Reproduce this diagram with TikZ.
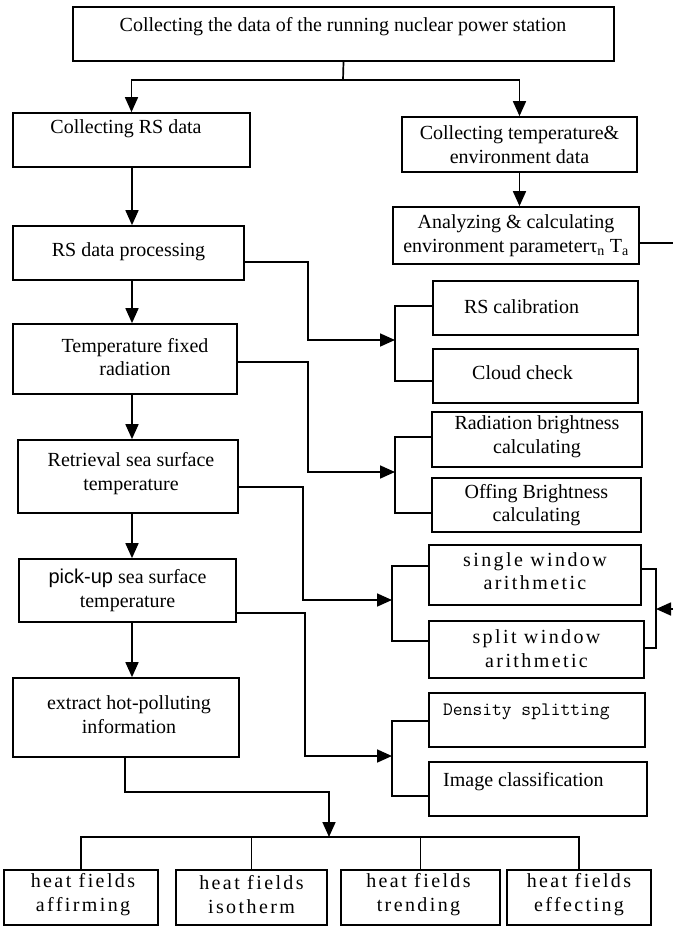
\documentclass[tikz,border=0pt]{standalone}
\usepackage{fontspec}
\setmainfont{Liberation Serif}
\newfontfamily\sansf{Liberation Sans}
\newfontfamily\spacedf[LetterSpace=12]{Liberation Serif}
\usetikzlibrary{fit,arrows.meta}
\begin{document}
\begin{tikzpicture}[x=1pt,y=-1pt,
  every node/.style={font=\fontsize{20}{23.5}\selectfont},
  box/.style={draw, line width=1.7pt, inner sep=0pt},
  txt/.style={inner sep=0pt, align=center},
  sptxt/.style={txt, font=\spacedf\fontsize{20}{23.5}\selectfont},
  ln/.style={line width=1.7pt},
  arr/.style={ln, -{Triangle[length=15pt,width=13pt]}},
  lbl/.style={inner sep=0pt, anchor=base}]
\useasboundingbox (0,0) rectangle (673,926);

% boxes
\node[box, fit={(73,7) (614,61)}] (top) {};
\node[box, fit={(13,113) (250,167)}] (rsd) {};
\node[box, fit={(402,117) (637,172)}] (ctd) {};
\node[box, fit={(393,207) (639,264)}] (ana) {};
\node[box, fit={(13,226) (244,280)}] (rsp) {};
\node[box, fit={(13,324) (237,394)}] (tfr) {};
\node[box, fit={(433,281) (638,335)}] (rcal) {};
\node[box, fit={(433,349) (638,403)}] (cloud) {};
\node[box, fit={(432,412) (642,467)}] (rad) {};
\node[box, fit={(432,478) (641,532)}] (off) {};
\node[box, fit={(18,440) (238,513)}] (ret) {};
\node[box, fit={(429,545) (641,605)}] (sw) {};
\node[box, fit={(429,621) (644,678)}] (spw) {};
\node[box, fit={(19,559) (236,622)}] (pick) {};
\node[box, fit={(429,693) (645,747)}] (dens) {};
\node[box, fit={(429,762) (647,816)}] (img) {};
\node[box, fit={(13,678) (239,757)}] (ext) {};
\node[box, fit={(4,870) (158,925)}] (h1) {};
\node[box, fit={(176,870) (327,925)}] (h2) {};
\node[box, fit={(341,870) (500,925)}] (h3) {};
\node[box, fit={(507,870) (651,925)}] (h4) {};

% texts
\node[lbl] (topt) at (343,31) {Collecting the data of the running nuclear power station};
\node[lbl] (rsdt) at (126,133) {Collecting RS data};
\node[txt] (ctdt) at ([yshift=0pt]ctd.center) {Collecting temperature\&\\environment data};
\node[txt] (anat) at ([yshift=0pt]ana.center) {Analyzing \& calculating\\environment parameterτ\textsubscript{n} T\textsubscript{a}};
\node[txt] (rspt) at ([yshift=1pt]rsp.center) {RS data processing};
\node[txt] (tfrt) at ([xshift=10pt,yshift=2pt]tfr.center) {Temperature fixed\\radiation};
\node[txt] (rcalt) at ([xshift=-14pt,yshift=1pt]rcal.center) {RS calibration};
\node[txt] (cloudt) at ([xshift=-13pt,yshift=3pt]cloud.center) {Cloud check};
\node[txt] (radt) at ([yshift=3pt]rad.center) {Radiation brightness\\calculating};
\node[txt] (offt) at ([yshift=0pt]off.center) {Offing Brightness\\calculating};
\node[txt] (rett) at ([xshift=3pt,yshift=3pt]ret.center) {Retrieval sea surface\\temperature};
\node[sptxt] (swt) at ([yshift=4pt]sw.center) {single window\\arithmetic};
\node[sptxt] (spwt) at ([yshift=1pt]spw.center) {split window\\arithmetic};
\node[txt] (pickt) at ([yshift=0pt]pick.center) {{\sansf pick-up} sea surface\\temperature};
\node[lbl, anchor=base west, font=\ttfamily\fontsize{19}{23}\selectfont] (denst) at (443,715) {Density splitting};
\node[lbl, anchor=base west] (imgt) at (443,786) {Image classification};
\node[txt] (extt) at ([xshift=3pt,yshift=3pt]ext.center) {extract hot-polluting\\information};
\node[sptxt] (h1t) at ([xshift=2pt,yshift=3pt]h1.center) {heat fields\\affirming};
\node[sptxt] (h2t) at ([yshift=3pt]h2.center) {heat fields\\isotherm};
\node[sptxt] (h3t) at ([xshift=-2pt,yshift=3pt]h3.center) {heat fields\\trending};
\node[sptxt] (h4t) at ([yshift=3pt]h4.center) {heat fields\\effecting};

% helper coordinates
\coordinate (sp) at (132,0);
\coordinate (j0) at (343,80);
\coordinate (anaR) at (673,243);
\coordinate (swR) at (673,609);
\coordinate (jb) at (329,837);

% top split
\draw[ln] (top.south) -- (j0);
\draw[arr] (j0) -| (rsd.north);
\draw[arr] (j0) -| (ctd.north);
\draw[arr] (ctd.south) -- (ctd.south |- ana.north);
\draw[ln] (ana.east |- anaR) -- (anaR);

% main spine
\draw[arr] (rsd.south -| sp) -- (rsp.north -| sp);
\draw[arr] (rsp.south -| sp) -- (tfr.north -| sp);
\draw[arr] (tfr.south -| sp) -- (ret.north -| sp);
\draw[arr] (ret.south -| sp) -- (pick.north -| sp);
\draw[arr] (pick.south -| sp) -- (ext.north -| sp);

% side branches
\draw[arr] (rsp.east |- 0,262) -- (308,262) -- (308,340) -- (395,340);
\draw[ln] (rcal.west |- 0,306) -- (395,306) -- (395,381) -- (cloud.west |- 0,381);

\draw[arr] (tfr.east |- 0,362) -- (308,362) -- (308,472) -- (395,472);
\draw[ln] (rad.west |- 0,437) -- (395,437) -- (395,513) -- (off.west |- 0,513);

\draw[arr] (ret.east |- 0,487) -- (303,487) -- (303,600) -- (392,600);
\draw[ln] (sw.west |- 0,566) -- (392,566) -- (392,641) -- (spw.west |- 0,641);
\draw[ln] (sw.east |- 0,569) -- (656,569) -- (656,648) -- (spw.east |- 0,648);
\draw[arr] (swR) -- (656,609);

\draw[arr] (pick.east |- 0,613) -- (305,613) -- (305,756) -- (392,756);
\draw[ln] (dens.west |- 0,721) -- (392,721) -- (392,796) -- (img.west |- 0,796);

% bottom
\draw[arr] (ext.south -| 125,0) -- (125,792) -- (329,792) -- (jb);
\draw[ln] (h1.north) |- (h4.north |- jb) -- (h4.north);
\draw[ln] (h2.north) -- (h2.north |- jb);
\draw[ln] (h3.north) -- (h3.north |- jb);
\end{tikzpicture}
\end{document}
